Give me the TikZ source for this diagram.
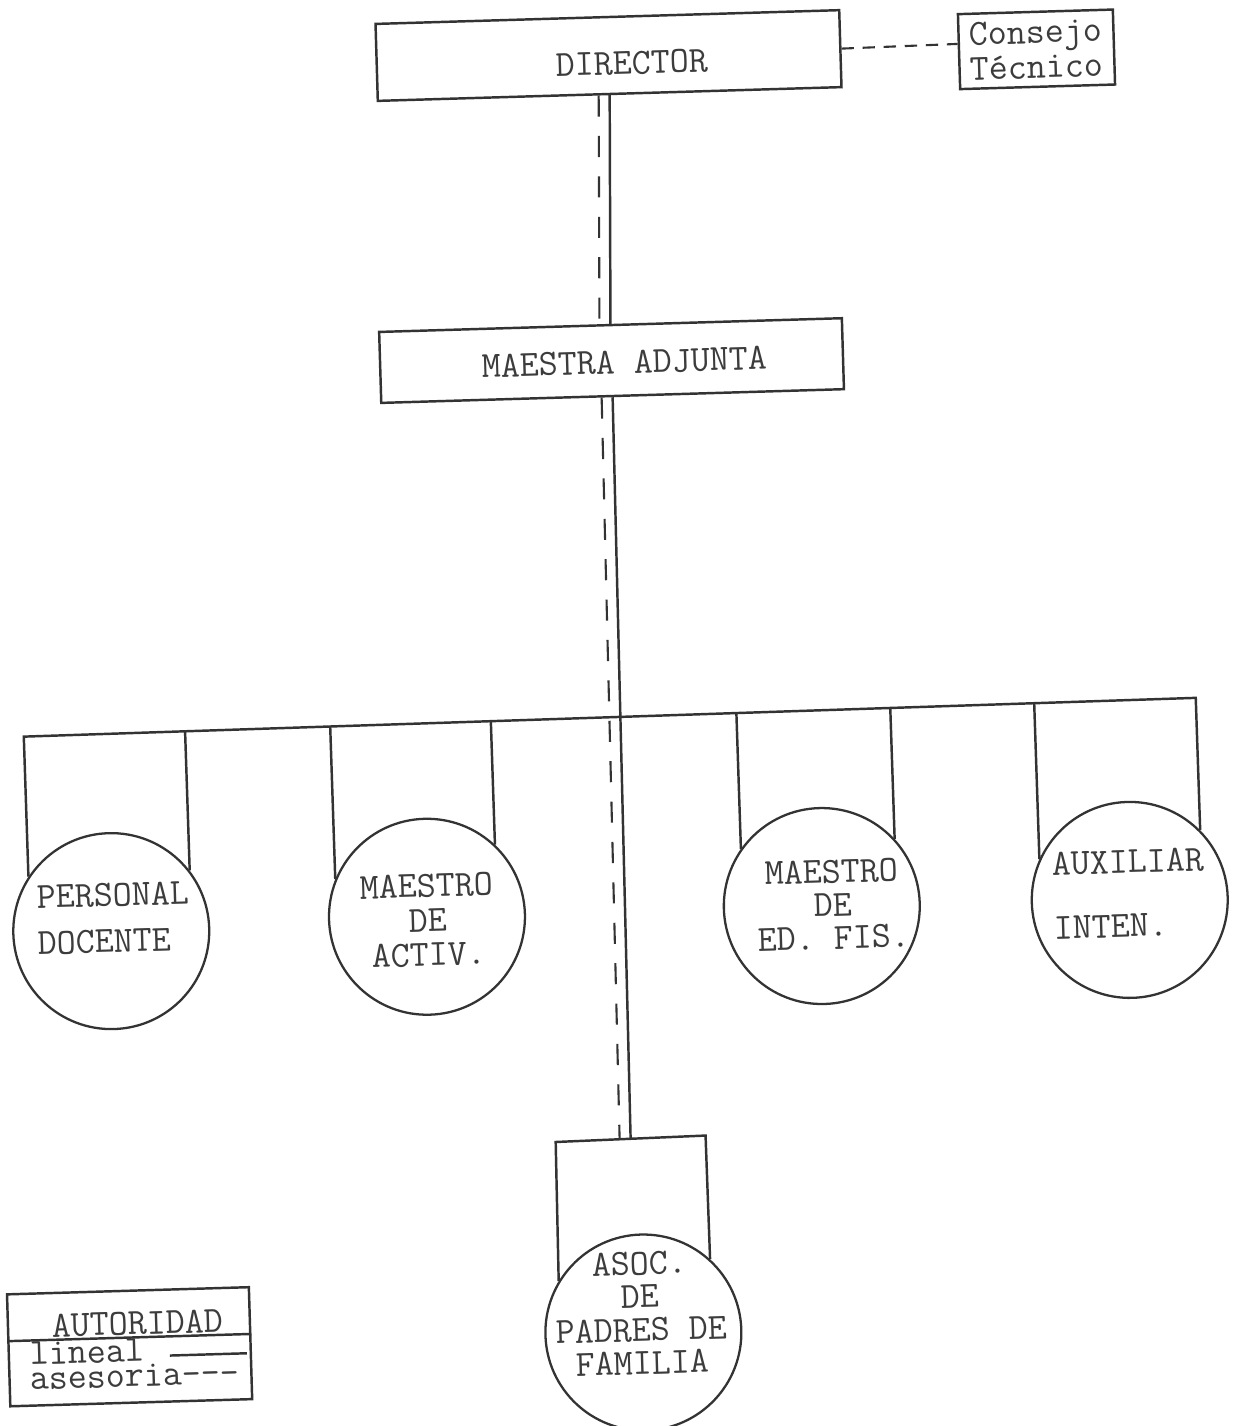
\documentclass[tikz,border=0pt]{standalone}
\usetikzlibrary{calc}

\definecolor{tinta}{HTML}{333333}
\definecolor{letra}{HTML}{3C3C3C}
\newcommand{\maquina}[1]{\ttfamily\fontsize{21}{#1}\selectfont}

\begin{document}
\begin{tikzpicture}[x=0.02cm, y=-0.02cm,
    caja/.style={draw=tinta, line width=1.4pt, inner sep=0pt},
    unidad/.style={draw=tinta, line width=1.3pt, circle, minimum size=3.92cm, inner sep=0pt},
    rotulo/.style={text=letra, font=\maquina{25pt}},
    lineal/.style={draw=tinta, line width=1.4pt},
    asesoria/.style={draw=tinta, line width=1.2pt, dash pattern=on 12pt off 11pt}]
  \useasboundingbox (0,0) rectangle (1237,1426);

  % the sheet sits a little crooked
  \begin{scope}[rotate around={1.7:(618,713)}, transform shape]
    \node[caja, minimum width=9.28cm, minimum height=1.54cm,
      label={[rotulo, xshift=0.46cm, yshift=-0.16cm]center:DIRECTOR}] (dir) at (628,55.5) {};
    \node[caja, rotulo, align=left, font=\maquina{19.9pt}, minimum width=3.1cm, minimum height=1.5cm] (cons) at (1056,62) {Consejo\\Técnico};
    \node[caja, minimum width=9.26cm, minimum height=1.42cm,
      label={[rotulo, xshift=0.27cm, yshift=-0.04cm]center:MAESTRA ADJUNTA}] (adj) at (622,360.5) {};

    \node[unidad, label={[rotulo, align=left, font=\maquina{26.3pt}, xshift=0.05cm, yshift=0.26cm]center:{PERSONAL\\DOCENTE}}] (pers) at (105,916) {};
    \node[unidad, label={[rotulo, align=center, font=\maquina{19.6pt}, xshift=0.02cm, yshift=-0.07cm]center:{MAESTRO\\DE\\ACTIV.}}] (activ) at (421,911) {};
    \node[unidad, label={[rotulo, align=center, font=\maquina{18.8pt}, xshift=0.22cm, yshift=0.02cm]center:{MAESTRO\\DE\\ED. FIS.}}] (edfis) at (816,912) {};
    \node[unidad, label={[rotulo, align=left, font=\maquina{36.4pt}, yshift=0.13cm]center:{AUXILIAR\\INTEN.}}] (aux) at (1124,915) {};
    \node[unidad, label={[rotulo, align=center, font=\maquina{18.9pt}, xshift=-0.04cm, yshift=0.39cm]center:{ASOC.\\DE\\PADRES DE\\FAMILIA}}] (asoc) at (625,1333) {};

    \coordinate (barL) at (28,719);
    \coordinate (barR) at (1197,715);
    \coordinate (sqL) at (543,1140);
    \coordinate (sqR) at (693,1138);
    \coordinate (sqtop) at ($(sqL)!0.5!(sqR)$);

    % autoridad lineal
    \draw[lineal] (dir.south) -- (adj.north);
    \draw[lineal] (adj.south) -- (sqtop);
    \draw[lineal] (pers.145) -- ($(barL)!(pers.145)!(barR)$) -- ($(barL)!(aux.43)!(barR)$) -- (aux.43);
    \draw[lineal] (pers.36) -- ($(barL)!(pers.36)!(barR)$);
    \draw[lineal] (activ.156) -- ($(barL)!(activ.156)!(barR)$);
    \draw[lineal] (activ.45) -- ($(barL)!(activ.45)!(barR)$);
    \draw[lineal] (edfis.143) -- ($(barL)!(edfis.143)!(barR)$);
    \draw[lineal] (edfis.41) -- ($(barL)!(edfis.41)!(barR)$);
    \draw[lineal] (aux.154) -- ($(barL)!(aux.154)!(barR)$);
    \draw[lineal] (asoc.147) -- (sqL) -- (sqR) -- (asoc.46);

    % asesoria
    \draw[asesoria, dash pattern=on 7pt off 5pt] (dir.east) -- ($(cons.north west)!0.4!(cons.south west)$);
    \draw[asesoria] ($(dir.south)!0.22cm!(dir.south west)$) -- ($(adj.north)!0.22cm!(adj.north west)$);
    \draw[asesoria] ($(adj.south)!0.22cm!(adj.south west)$) -- ($(sqtop)!0.22cm!(sqL)$);

    % legend
    \node[caja, minimum width=4.84cm, minimum height=2.24cm] (leg) at (111,1332) {};
    \draw[lineal] ($(leg.north west)!0.42!(leg.south west)$) -- ($(leg.north east)!0.42!(leg.south east)$);
    \node[rotulo, anchor=base, inner sep=0pt] (aut) at (120,1320) {AUTORIDAD};
    \node[rotulo, anchor=base west, inner sep=0pt] (lin) at (11,1347) {lineal};
    \node[rotulo, anchor=base west, inner sep=0pt] (ase) at (10,1372) {asesoria\mbox{-}\mbox{-}\mbox{-}};
    \draw[lineal] (151,1342) -- (228,1342);
  \end{scope}
\end{tikzpicture}
\end{document}
